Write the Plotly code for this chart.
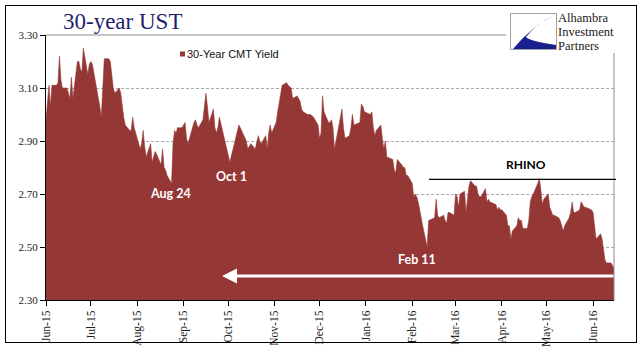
import pandas as pd
import plotly.graph_objects as go

# ---------------- data (30-Year CMT yield, daily) ----------------
jun15 = [2.98, 3.05, 3.11, 3.03, 3.11, 3.11, 3.12, 3.22, 3.13, 3.10, 3.10, 3.08, 3.06, 3.14, 3.06,
         3.20, 3.20, 3.17, 3.16, 3.25, 3.15, 3.19]
jul15 = [3.20, 3.19, 3.07, 3.03, 2.99, 3.10, 3.21, 3.21, 3.20, 3.15, 3.10, 3.08, 3.10, 3.08, 3.03,
         2.99, 2.96, 2.94, 2.94, 2.99, 2.95, 2.93]
aug15 = [2.87, 2.89, 2.94, 2.88, 2.84, 2.89, 2.82, 2.84, 2.86, 2.85, 2.81, 2.87, 2.80, 2.79, 2.77,
         2.74, 2.89, 2.94, 2.93, 2.95, 2.95]
sep15 = [2.96, 2.97, 2.91, 2.89, 2.97, 2.98, 2.96, 2.95, 2.98, 3.04, 3.08, 3.03, 2.97, 3.02, 2.95,
         2.93, 2.95, 2.99, 2.92, 2.89, 2.87]
oct15 = [2.85, 2.82, 2.89, 2.91, 2.93, 2.96, 2.95, 2.90, 2.87, 2.88, 2.89, 2.87, 2.89, 2.92, 2.90,
         2.89, 2.92, 2.87, 2.93, 2.96, 2.93]
nov15 = [2.97, 3.01, 3.05, 3.09, 3.11, 3.12, 3.11, 3.10, 3.06, 3.07, 3.06, 3.05, 3.02, 3.01, 3.00,
         3.00, 3.00, 2.99, 2.96]
dec15 = [2.91, 2.93, 3.07, 3.01, 2.97, 2.97, 2.98, 2.95, 2.87, 2.97, 3.00, 3.02, 2.95, 2.91, 2.92,
         2.95, 3.00, 2.96, 2.97, 3.04, 3.03, 3.01]
jan16 = [3.00, 3.01, 2.95, 2.92, 2.94, 2.96, 2.91, 2.87, 2.90, 2.84, 2.83, 2.79, 2.78, 2.83, 2.81,
         2.80, 2.80, 2.77, 2.77]
feb16 = [2.74, 2.69, 2.70, 2.69, 2.67, 2.58, 2.55, 2.52, 2.50, 2.60, 2.61, 2.68, 2.62, 2.61, 2.62,
         2.60, 2.59, 2.63, 2.63, 2.62]
mar16 = [2.70, 2.69, 2.65, 2.70, 2.71, 2.63, 2.68, 2.73, 2.75, 2.73, 2.73, 2.70, 2.69, 2.69, 2.72,
         2.67, 2.68, 2.67, 2.66, 2.64, 2.65, 2.64]
apr16 = [2.64, 2.62, 2.58, 2.58, 2.53, 2.56, 2.58, 2.61, 2.60, 2.60, 2.57, 2.57, 2.60, 2.67, 2.69,
         2.70, 2.74, 2.76, 2.72, 2.66, 2.68]
may16 = [2.70, 2.65, 2.63, 2.62, 2.62, 2.61, 2.60, 2.58, 2.56, 2.58, 2.61, 2.63, 2.67, 2.63, 2.63,
         2.64, 2.67, 2.66, 2.65, 2.65, 2.64]
jun16 = [2.63, 2.58, 2.53, 2.55, 2.53, 2.49, 2.45, 2.44, 2.44, 2.43, 2.42]

start_date = "2015-06-01"
end_date = "2016-06-15"
market_holidays = ["2015-07-03", "2015-09-07", "2015-10-12", "2015-11-11", "2015-11-26",
                   "2015-12-25", "2016-01-01", "2016-01-18", "2016-02-15", "2016-03-25",
                   "2016-05-30"]

x_tick_dates = ["2015-06-01", "2015-07-01", "2015-08-01", "2015-09-01", "2015-10-01",
                "2015-11-01", "2015-12-01", "2016-01-01", "2016-02-01", "2016-03-01",
                "2016-04-01", "2016-05-01", "2016-06-01"]
x_tick_labels = ["Jun-15", "Jul-15", "Aug-15", "Sep-15", "Oct-15", "Nov-15", "Dec-15",
                 "Jan-16", "Feb-16", "Mar-16", "Apr-16", "May-16", "Jun-16"]
y_ticks = [2.30, 2.50, 2.70, 2.90, 3.10, 3.30]
y_tick_labels = ["2.30", "2.50", "2.70", "2.90", "3.10", "3.30"]

series_name = "30-Year CMT Yield"
title_text = "30-year UST"
logo_lines = ["Alhambra", "Investment", "Partners"]

yield_values = (jun15 + jul15 + aug15 + sep15 + oct15 + nov15 + dec15 + jan16 + feb16 +
                mar16 + apr16 + may16 + jun16)
dates = [d for d in pd.bdate_range(start_date, end_date)
         if d.strftime("%Y-%m-%d") not in market_holidays]
assert len(dates) == len(yield_values), (len(dates), len(yield_values))

# ---------------- layout helpers ----------------
W, H = 644, 361
L, R, T, B = 46, 30, 35, 61
PW, PH = W - L - R, H - T - B


def px(x):
    return (x - L) / PW


def py(y):
    return (H - B - y) / PH


RED = "#953735"
SERIF = "Liberation Serif"
SANS = "Liberation Sans"
CAL = "Lato"

fig = go.Figure()
fig.add_trace(go.Scatter(
    x=dates, y=yield_values, mode="lines", name=series_name,
    line=dict(color=RED, width=0.6), fill="tozeroy", fillcolor=RED,
    showlegend=False, hoverinfo="x+y"))

shapes = []
# plot-area top and right border
shapes.append(dict(type="line", xref="paper", yref="paper", x0=0, x1=1, y0=1, y1=1,
                   line=dict(color="#8c8c8c", width=1)))
shapes.append(dict(type="line", xref="paper", yref="paper", x0=1, x1=1, y0=0, y1=1,
                   line=dict(color="#8c8c8c", width=1)))
# logo background
shapes.append(dict(type="rect", xref="paper", yref="paper",
                   x0=px(506), x1=px(635), y0=py(53), y1=py(7),
                   fillcolor="white", line=dict(width=0)))
shapes.append(dict(type="rect", xref="paper", yref="paper",
                   x0=px(510.5), x1=px(556.5), y0=py(49.5), y1=py(13.5),
                   fillcolor="white", line=dict(color="#a0a0a0", width=1)))
logo_pts = "M {a},{b} Q {c},{d} {e},{f} L {g},{f} L {g},{h} Q {i},{j} {k},{l} Q {m},{n} {a},{b} Z"
path = logo_pts.format(
    a=px(555), b=py(14.5), c=px(530), d=py(28), e=px(513), f=py(49),
    g=px(556), h=py(45), i=px(529), j=py(41), k=px(526), l=py(37), m=px(535), n=py(25))
shapes.append(dict(type="path", xref="paper", yref="paper", path=path,
                   fillcolor="#1b1f8c", line=dict(width=0)))
# legend marker
shapes.append(dict(type="rect", xref="paper", yref="paper",
                   x0=px(180), x1=px(185), y0=py(56.5), y1=py(51.5),
                   fillcolor=RED, line=dict(width=0)))
# RHINO ceiling line
shapes.append(dict(type="line", xref="paper", yref="paper",
                   x0=px(429), x1=px(616), y0=py(179.3), y1=py(179.3),
                   line=dict(color="black", width=1.3)))

annotations = [
    dict(text=title_text, x=px(61), y=py(21), xanchor="left", yanchor="middle",
         font=dict(family=SERIF, size=23, color="#1f1f6e")),
    dict(text=series_name, x=px(184.5), y=py(54), xanchor="left", yanchor="middle",
         font=dict(family=SANS, size=11, color="#111111")),
    dict(text="<b>Aug 24</b>", x=px(170), y=py(193.3), xanchor="center", yanchor="middle",
         font=dict(family=CAL, size=12.5, color="white")),
    dict(text="<b>Oct 1</b>", x=px(231.5), y=py(176.7), xanchor="center", yanchor="middle",
         font=dict(family=CAL, size=12.5, color="white")),
    dict(text="<b>Feb 11</b>", x=px(417.3), y=py(259.3), xanchor="center", yanchor="middle",
         font=dict(family=CAL, size=12.5, color="white")),
    dict(text="<b>RHINO</b>", x=px(526.2), y=py(164), xanchor="center", yanchor="middle",
         font=dict(family=CAL, size=12, color="black")),
    dict(text="", x=px(222), y=py(276), ax=393, ay=0, showarrow=True,
         arrowhead=2, arrowsize=1, arrowwidth=3, arrowcolor="white", standoff=0),
]
for line_text, yy in zip(logo_lines, [18.5, 32, 45.5]):
    annotations.append(dict(text=line_text, x=px(557), y=py(yy), xanchor="left",
                            yanchor="middle", borderpad=0,
                            font=dict(family=SERIF, size=12.5, color="#1a1a1a")))
for a in annotations:
    a.setdefault("xref", "paper")
    a.setdefault("yref", "paper")
    a.setdefault("showarrow", False)

fig.update_layout(
    width=W, height=H,
    margin=dict(l=L, r=R, t=T, b=B, pad=0),
    paper_bgcolor="white", plot_bgcolor="white",
    showlegend=False,
    shapes=shapes, annotations=annotations,
    xaxis=dict(type="date", range=[start_date, end_date],
               tickmode="array", tickvals=x_tick_dates, ticktext=x_tick_labels,
               tickangle=-90, ticks="outside", ticklen=5, tickcolor="black",
               showline=True, linecolor="black", linewidth=1, showgrid=False,
               zeroline=False,
               tickfont=dict(family=SERIF, size=11.5, color="#222222")),
    yaxis=dict(range=[2.30, 3.30], tickmode="array", tickvals=y_ticks,
               ticktext=y_tick_labels, ticks="outside", ticklen=5, tickcolor="black",
               showline=True, linecolor="black", linewidth=1,
               showgrid=True, gridcolor="#a8a8a8", gridwidth=1, griddash="3px,2px",
               zeroline=False,
               tickfont=dict(family=SERIF, size=11, color="#222222")),
)

# page setup: no body margin, plus the thin black frame round the whole chart
page_js = (
    "document.body.style.margin='0';document.body.style.padding='0';"
    "var fr=document.createElement('div');"
    "fr.style.cssText='position:absolute;left:5px;top:5px;width:632px;height:338px;"
    "border:1px solid #000;box-sizing:border-box;pointer-events:none;z-index:10;';"
    "document.body.appendChild(fr);"
)
fig.write_html("out.html", config={"displayModeBar": False}, post_script=page_js)
